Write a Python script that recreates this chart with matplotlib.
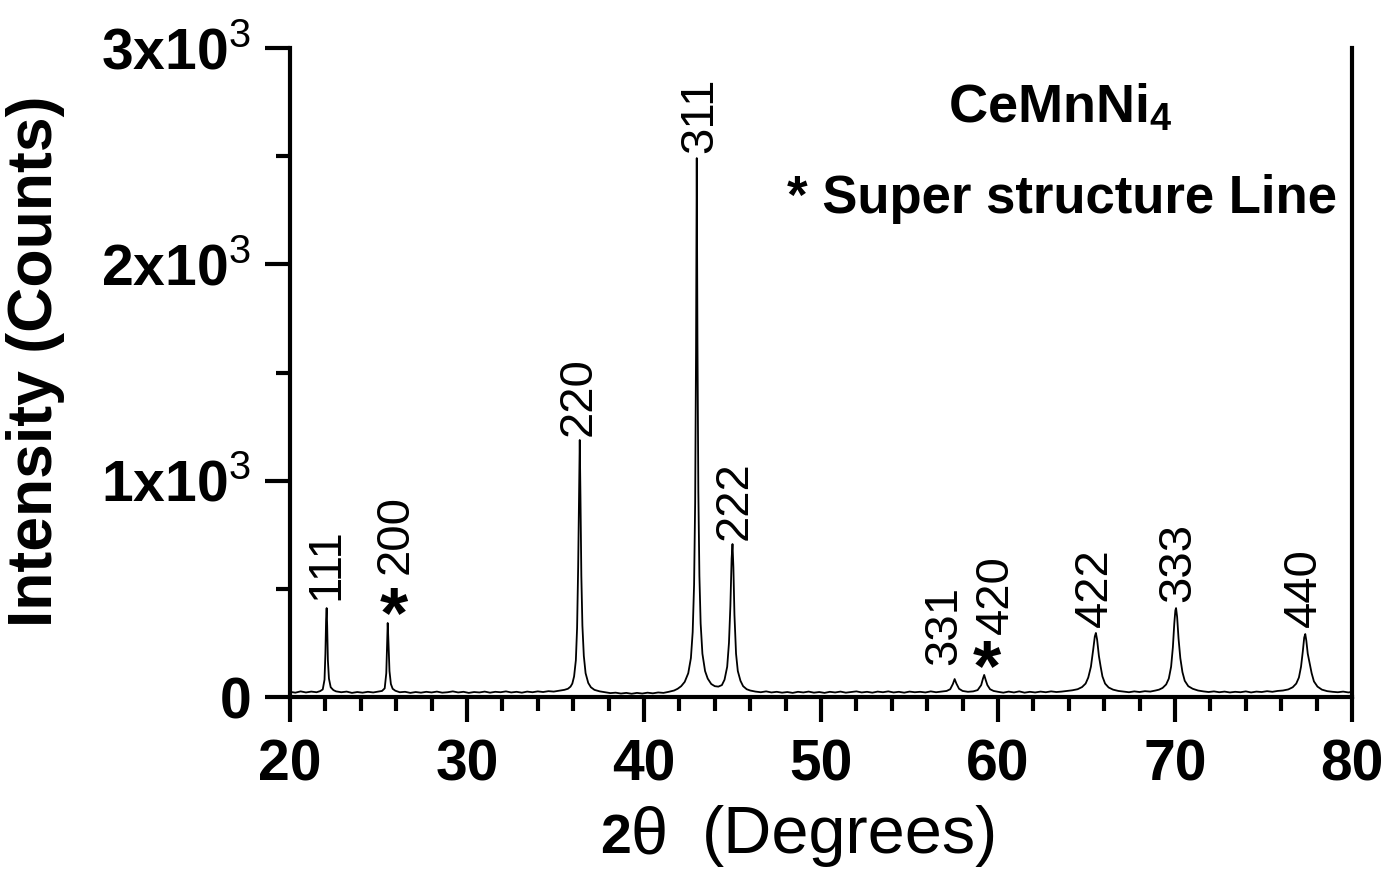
import matplotlib
matplotlib.use("Agg")
import matplotlib.pyplot as plt
from matplotlib.ticker import MultipleLocator

plt.rcParams['font.family'] = ['Liberation Sans', 'DejaVu Sans']
plt.rcParams['mathtext.fontset'] = 'custom'
plt.rcParams['mathtext.rm'] = 'Liberation Sans'
plt.rcParams['mathtext.bf'] = 'Liberation Sans:bold'

# XRD trace (2theta in degrees, intensity in counts)
two_theta = [
    20.0, 20.3, 20.6, 20.9, 21.2, 21.5, 21.7, 21.85, 21.95, 22.0, 22.04, 22.07, 22.1, 22.14, 22.2,
    22.3, 22.45, 22.6, 22.9, 23.2, 23.5, 23.8, 24.1, 24.4, 24.7, 25.0, 25.2, 25.35, 25.44, 25.48,
    25.52, 25.56, 25.62, 25.7, 25.8, 25.95, 26.2, 26.5, 26.8, 27.1, 27.4, 27.7, 28.0, 28.3, 28.6,
    28.9, 29.2, 29.5, 29.8, 30.1, 30.4, 30.7, 31.0, 31.3, 31.6, 31.9, 32.2, 32.5, 32.8, 33.1,
    33.4, 33.7, 34.0, 34.3, 34.6, 34.9, 35.2, 35.5, 35.7, 35.85, 35.95, 36.05, 36.15, 36.22, 36.28,
    36.33, 36.37, 36.41, 36.46, 36.52, 36.6, 36.7, 36.85, 37.0, 37.2, 37.5, 37.8, 38.1, 38.4, 38.7,
    39.0, 39.3, 39.6, 39.9, 40.2, 40.5, 40.8, 41.1, 41.4, 41.7, 41.9, 42.1, 42.3, 42.5, 42.65,
    42.75, 42.83, 42.89, 42.94, 42.98, 43.02, 43.07, 43.13, 43.2, 43.3, 43.45, 43.6, 43.8, 44.0, 44.2,
    44.4, 44.55, 44.7, 44.8, 44.88, 44.95, 45.0, 45.05, 45.11, 45.2, 45.3, 45.45, 45.6, 45.8, 46.0,
    46.3, 46.6, 46.9, 47.2, 47.5, 47.8, 48.1, 48.4, 48.7, 49.0, 49.3, 49.6, 49.9, 50.2, 50.5,
    50.8, 51.1, 51.4, 51.7, 52.0, 52.3, 52.6, 52.9, 53.2, 53.5, 53.8, 54.1, 54.4, 54.7, 55.0,
    55.3, 55.6, 55.9, 56.2, 56.5, 56.8, 57.1, 57.3, 57.45, 57.55, 57.65, 57.8, 58.0, 58.3, 58.6,
    58.85, 59.05, 59.15, 59.22, 59.3, 59.4, 59.55, 59.75, 60.0, 60.3, 60.6, 60.9, 61.2, 61.5, 61.8,
    62.1, 62.4, 62.7, 63.0, 63.3, 63.6, 63.9, 64.2, 64.5, 64.75, 64.95, 65.1, 65.25, 65.38, 65.47,
    65.53, 65.6, 65.7, 65.8, 65.9, 66.05, 66.25, 66.5, 66.8, 67.1, 67.4, 67.7, 68.0, 68.3, 68.6,
    68.9, 69.1, 69.3, 69.5, 69.65, 69.78, 69.88, 69.96, 70.02, 70.06, 70.12, 70.2, 70.3, 70.42, 70.55,
    70.75, 71.0, 71.3, 71.6, 71.9, 72.2, 72.5, 72.8, 73.1, 73.4, 73.7, 74.0, 74.3, 74.6, 74.9,
    75.2, 75.5, 75.8, 76.1, 76.4, 76.65, 76.85, 77.0, 77.12, 77.22, 77.3, 77.36, 77.42, 77.5, 77.6,
    77.72, 77.85, 78.05, 78.3, 78.6, 78.9, 79.2, 79.5, 79.8, 80.0,
]
counts = [
    24, 20, 26, 21, 25, 22, 27, 35, 80, 200, 360, 411, 330, 170, 85,
    45, 32, 26, 22, 25, 19, 23, 20, 24, 21, 25, 28, 40, 110, 220,
    342, 260, 120, 60, 38, 29, 22, 24, 19, 23, 20, 24, 21, 25, 20,
    22, 26, 21, 24, 19, 23, 21, 25, 20, 24, 22, 26, 21, 24, 20,
    25, 22, 26, 23, 27, 25, 29, 33, 38, 48, 62, 95, 170, 320, 600,
    950, 1188, 930, 560, 330, 190, 110, 65, 45, 33, 26, 22, 18, 20, 16,
    19, 15, 19, 16, 20, 17, 21, 19, 24, 30, 38, 50, 70, 110, 180,
    300, 520, 900, 1600, 2491, 1650, 950, 560, 340, 200, 120, 85, 60, 50, 48,
    55, 80, 140, 250, 420, 640, 707, 600, 380, 200, 120, 75, 50, 36, 30,
    25, 22, 26, 21, 24, 20, 23, 19, 24, 21, 25, 20, 23, 19, 24,
    21, 25, 20, 23, 26, 21, 24, 20, 25, 22, 26, 21, 24, 20, 25,
    22, 24, 21, 26, 22, 25, 28, 36, 60, 83, 62, 38, 28, 24, 26,
    32, 55, 85, 102, 80, 55, 36, 28, 24, 20, 25, 21, 26, 20, 24,
    21, 25, 22, 26, 23, 25, 28, 31, 36, 46, 62, 90, 140, 220, 280,
    296, 265, 190, 140, 95, 62, 44, 34, 28, 25, 22, 26, 23, 27, 25,
    30, 34, 42, 58, 85, 140, 230, 340, 400, 411, 370, 270, 180, 115, 75,
    50, 38, 30, 26, 23, 26, 22, 25, 21, 24, 22, 26, 21, 25, 23,
    27, 24, 28, 30, 35, 45, 62, 90, 140, 210, 275, 291, 260, 200, 160,
    110, 72, 48, 34, 27, 24, 22, 25, 21, 24,
]

# reflection labels and where they sit (bottom of the rotated text)
hkl = ['111', '200', '220', '311', '222', '331', '420', '422', '333', '440']
hkl_x = [22.07, 25.95, 36.30, 43.15, 45.12, 56.97, 59.90, 65.50, 70.20, 77.30]
hkl_y = [450, 570, 1205, 2515, 725, 150, 290, 325, 440, 325]

# super structure line markers (top of the star)
star_x = [25.85, 59.40]
star_y = [520, 275]

y_ticks = [0, 1000, 2000, 3000]
y_tick_labels = ['0', '1x10$^{3}$', '2x10$^{3}$', '3x10$^{3}$']
x_ticks = [20, 30, 40, 50, 60, 70, 80]

fig = plt.figure(figsize=(13.99, 8.72), dpi=100)
ax = fig.add_axes([290 / 1399, 175 / 872, 1062 / 1399, 649 / 872])

ax.plot(two_theta, counts, color='black', lw=1.3)

ax.set_xlim(20, 80)
ax.set_ylim(0, 3000)
ax.spines['top'].set_visible(False)
for side in ['left', 'bottom', 'right']:
    ax.spines[side].set_linewidth(3)

ax.set_xticks(x_ticks, labels=[str(v) for v in x_ticks], fontsize=41, fontweight='bold')
ax.set_yticks(y_ticks, labels=y_tick_labels, fontsize=41, fontweight='bold')
ax.xaxis.set_minor_locator(MultipleLocator(2))
ax.yaxis.set_minor_locator(MultipleLocator(500))
ax.tick_params(which='major', direction='out', length=18, width=3, top=False, right=False)
ax.tick_params(which='minor', direction='out', length=10, width=3, top=False, right=False)
ax.tick_params(axis='x', which='major', pad=12)
ax.tick_params(axis='y', which='major', pad=10)

for lab, x, y in zip(hkl, hkl_x, hkl_y):
    ax.text(x, y, lab, rotation=90, ha='center', va='bottom', fontsize=34)
for x, y in zip(star_x, star_y):
    ax.text(x, y, '*', ha='center', va='top', fontsize=52, fontweight='bold')

ax.text(0.725, 0.885, 'CeMnNi$_\\mathbf{4}$', transform=ax.transAxes,
        ha='center', va='baseline', fontsize=39, fontweight='bold')
ax.text(0.727, 0.745, '* Super structure Line', transform=ax.transAxes,
        ha='center', va='baseline', fontsize=38, fontweight='bold')

# axis titles
fig.text(36 / 1399, 1 - 361 / 872, 'Intensity (Counts)', rotation=90,
         ha='center', va='center', fontsize=45, fontweight='bold')
fig.text(600 / 1399, 1 - 853 / 872, '2', ha='left', va='baseline',
         fontsize=40, fontweight='bold')
fig.text(631 / 1399, 1 - 853 / 872, '\u03b8', ha='left', va='baseline', fontsize=48)
fig.text(702 / 1399, 1 - 853 / 872, '(Degrees)', ha='left', va='baseline', fontsize=48)

fig.savefig('out.png', dpi=100)
